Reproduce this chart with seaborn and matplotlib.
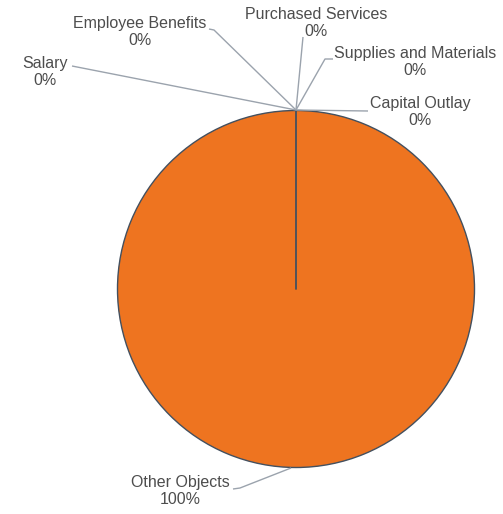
import matplotlib
matplotlib.use("Agg")
import matplotlib.pyplot as plt
import seaborn as sns

sns.set_theme(style="white")
plt.rcParams["font.family"] = ["Liberation Sans", "DejaVu Sans"]

# Expenditure share by object
categories = ["Salary", "Employee Benefits", "Purchased Services",
              "Supplies and Materials", "Capital Outlay", "Other Objects"]
shares = [0, 0, 0, 0, 0, 100]

W, H, DPI = 503, 514, 100
fig = plt.figure(figsize=(W / DPI, H / DPI), dpi=DPI)
ax = fig.add_axes([0, 0, 1, 1])

# pixel frame helpers (pie centre and radius in pixels)
cx, cy, rad = 296, 289, 178.5
def px(x, y):
    return ((x - cx) / rad, (cy - y) / rad)

wedge_color = "#EE7420"
edge_color = "#43505f"
wedges, _ = ax.pie(shares, startangle=90, counterclock=False, radius=1.0,
                   colors=[wedge_color] * len(shares),
                   wedgeprops=dict(edgecolor=edge_color, linewidth=1.0))

# seam where the zero-share slices sit (start of the pie, 12 o'clock)
ax.plot([0, 0], [0, 1], color=edge_color, lw=1.3, zorder=2.5)

ax.set_xlim((0 - cx) / rad, (W - cx) / rad)
ax.set_ylim((cy - H) / rad, cy / rad)
ax.set_aspect("equal")
ax.axis("off")

# label layout: text centre, leader path (pixel coordinates)
layout = {
    "Salary": ((45, 72), [(72, 66), (296, 110)]),
    "Employee Benefits": ((140, 32), [(209, 29), (214, 30), (296, 110)]),
    "Purchased Services": ((316, 23), [(303, 37), (296, 110)]),
    "Supplies and Materials": ((415, 62), [(333, 59), (325, 59), (296, 110)]),
    "Capital Outlay": ((420, 112), [(368, 111), (296, 110)]),
    "Other Objects": ((180, 491), [(233, 489), (240, 488), (291, 468)]),
}

text_color = "#4d4d4d"
line_color = "#9ba3ad"
for name, val in zip(categories, shares):
    (tx, ty), path = layout[name]
    xs, ys = zip(*[px(x, y) for x, y in path])
    ax.plot(xs, ys, color=line_color, lw=1.0, zorder=3, solid_capstyle="butt")
    lx, ly = px(tx, ty)
    ax.text(lx, ly, f"{name}\n{val:.0f}%", ha="center", va="center",
            fontsize=11.5, color=text_color, linespacing=1.1, zorder=4)

fig.savefig("out.png", dpi=DPI, facecolor="white")
